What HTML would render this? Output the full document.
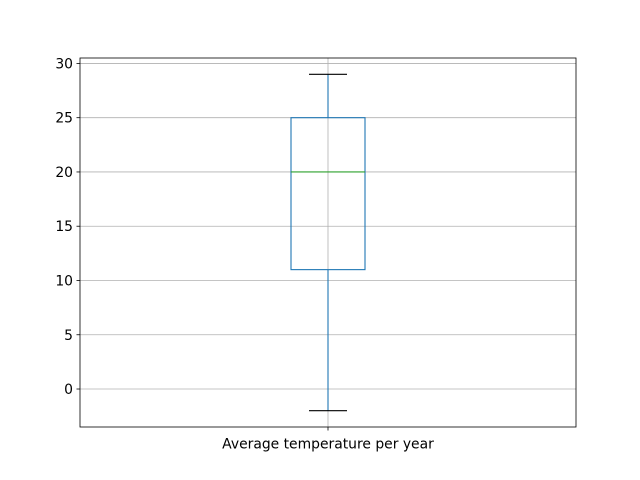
<!DOCTYPE html>
<html><head><meta charset="utf-8"><style>
body{margin:0;background:#fff;}
svg{display:block;font-family:"DejaVu Sans","Liberation Sans",sans-serif;}
</style></head><body>
<svg id="chart" width="640" height="480"></svg>
<script>
const categories = ["Average temperature per year"];
const whiskerLow = [-2];
const q1 = [11];
const median = [20];
const q3 = [25];
const whiskerHigh = [29];
const yTicks = [0, 5, 10, 15, 20, 25, 30];

const L=80,R=576,T=58,B=427, yMin=-3.5, yMax=30.5;
const y = v => B - (v - yMin) / (yMax - yMin) * (B - T);
const x = i => L + (i + 1) / (categories.length + 1) * (R - L);
const svg = document.getElementById('chart');
const NS = 'http://www.w3.org/2000/svg';
function mk(tag, attrs, parent){ const e=document.createElementNS(NS,tag); for(const k in attrs) e.setAttribute(k,attrs[k]); (parent||svg).appendChild(e); return e; }

yTicks.forEach(t=>{
  const g = mk('line',{x1:L,x2:R,y1:y(t),y2:y(t),stroke:'#b0b0b0','stroke-width':0.8});
  
  
  mk('line',{x1:L-3.5,x2:L,y1:y(t),y2:y(t),stroke:'#000','stroke-width':0.8});
  const tx = mk('text',{x:L-7,y:y(t)+5,'text-anchor':'end','font-size':13.9,fill:'#000'});
  tx.textContent = t;
  
  
});
categories.forEach((c,i)=>{
  const cx = x(i);
  const vg = mk('line',{x1:cx,x2:cx,y1:T,y2:B,stroke:'#b0b0b0','stroke-width':0.8});
  
  
  mk('line',{x1:cx,x2:cx,y1:B,y2:B+3.5,stroke:'#000','stroke-width':0.8});
  const lab = mk('text',{x:cx,y:B+21.5,'text-anchor':'middle','font-size':13.9,fill:'#000'});
  lab.textContent = c;
  
  
  const hw = 37, cw = 19;
  const w1 = mk('line',{x1:cx,x2:cx,y1:y(whiskerLow[i]),y2:y(q1[i]),stroke:'#1f77b4','stroke-width':1.1});
  
  
  const w2 = mk('line',{x1:cx,x2:cx,y1:y(q3[i]),y2:y(whiskerHigh[i]),stroke:'#1f77b4','stroke-width':1.1});
  
  
  const c1 = mk('line',{x1:cx-cw,x2:cx+cw,y1:y(whiskerLow[i]),y2:y(whiskerLow[i]),stroke:'#000','stroke-width':1.1});
  
  
  const c2 = mk('line',{x1:cx-cw,x2:cx+cw,y1:y(whiskerHigh[i]),y2:y(whiskerHigh[i]),stroke:'#000','stroke-width':1.1});
  
  
  const box = mk('rect',{x:cx-hw,y:y(q3[i]),width:hw*2,height:y(q1[i])-y(q3[i]),fill:'none',stroke:'#1f77b4','stroke-width':1.1});
  
  
  const m = mk('line',{x1:cx-hw,x2:cx+hw,y1:y(median[i]),y2:y(median[i]),stroke:'#2ca02c','stroke-width':1.1});
  
  
});
const frame = mk('rect',{x:L,y:T,width:R-L,height:B-T,fill:'none',stroke:'#000','stroke-width':0.8});


</script>
</body></html>
